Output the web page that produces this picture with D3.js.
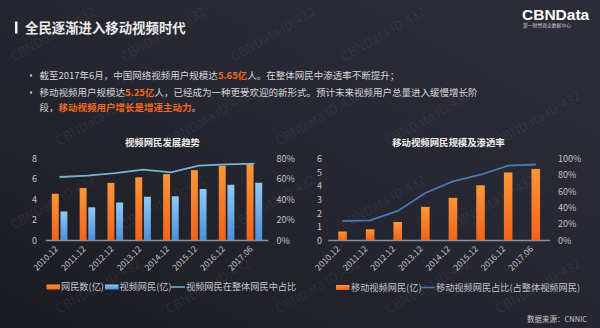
<!DOCTYPE html>
<html>
<head>
<meta charset="utf-8">
<script src="https://cdn.jsdelivr.net/npm/d3@7"></script>
<style>
  html, body { margin: 0; padding: 0; background: #1f2028; }
  svg { display: block; }
  text { font-family: "Noto Sans CJK SC", "Noto Sans", sans-serif; }
</style>
</head>
<body>
<svg id="chart" width="600" height="328"></svg>
<script>
// Periods on the x axis (shared by both panels)
const categories = ["2010.12", "2011.12", "2012.12", "2013.12", "2014.12", "2015.12", "2016.12", "2017.06"];

// Left panel: 网民数 / 视频网民 (亿) and video share of all netizens (%)
const netizens   = [4.57, 5.13, 5.64, 6.18, 6.49, 6.88, 7.31, 7.51];
const videoUsers = [2.84, 3.25, 3.72, 4.28, 4.33, 5.04, 5.45, 5.65];
const videoShare = [62.1, 63.4, 65.9, 69.3, 66.7, 73.2, 74.5, 75.2];

// Right panel: 移动视频网民 (亿) and its share of all video users (%)
const mobileVideo = [0.66, 0.82, 1.36, 2.47, 3.13, 4.05, 4.99, 5.25];
const mobileShare = [23.7, 24.6, 36.2, 58.1, 72.2, 80.4, 91.6, 92.9];

// Axis tick values
const leftTicks = [0, 2, 4, 6, 8];
const leftPctTicks = [0, 20, 40, 60, 80];
const rightTicks = [0, 1, 2, 3, 4, 5, 6];
const rightPctTicks = [0, 20, 40, 60, 80, 100];

const svg = d3.select("#chart");
const defs = svg.append("defs");

// Background
const bg = defs.append("linearGradient").attr("id", "bg")
  .attr("x1", "0").attr("y1", "1").attr("x2", "1").attr("y2", "0");
bg.append("stop").attr("offset", "0%").attr("stop-color", "#1b1c22");
bg.append("stop").attr("offset", "55%").attr("stop-color", "#262731");
bg.append("stop").attr("offset", "100%").attr("stop-color", "#2c2d38");
svg.append("rect").attr("width", 600).attr("height", 328).attr("fill", "url(#bg)");

// Bar gradients
function vGrad(id, top, bottom) {
  const g = defs.append("linearGradient").attr("id", id)
    .attr("x1", "0").attr("y1", "0").attr("x2", "0").attr("y2", "1");
  g.append("stop").attr("offset", "0%").attr("stop-color", top);
  g.append("stop").attr("offset", "100%").attr("stop-color", bottom);
}
vGrad("gOrange", "#ff9636", "#f2621a");
vGrad("gBlue", "#8fcaf4", "#4c8fd8");

// Faint diagonal watermark, kept inside the canvas and clear of the logo
const wm = svg.append("g").attr("fill", "#ffffff").attr("fill-opacity", 0.07)
  .style("font-family", "'Liberation Sans', Arial, sans-serif").attr("font-size", 13);
for (let r = 0; r < 5; r++) {
  for (let c = 0; c < 7; c++) {
    const x = 14 + c * 110 + (r % 2) * 45;
    const y = 62 + r * 84;
    const inside = x >= 10 && x + 92 <= 596 && y - 54 >= 2 && y + 2 <= 326;
    const nearLogo = x + 92 > 500 && y - 54 < 32;
    if (inside && !nearLogo) {
      wm.append("text").attr("transform", `translate(${x},${y}) rotate(-30)`).text("CBNData ID:432");
    }
  }
}

// Header
svg.append("rect").attr("x", 15).attr("y", 21.5).attr("width", 2.5).attr("height", 12).attr("fill", "#f0f0f0");
svg.append("text").attr("x", 25).attr("y", 32.5).attr("fill", "#ececec")
  .attr("font-size", 13.4).attr("font-weight", "bold").text("全民逐渐进入移动视频时代");

svg.append("text").attr("x", 522).attr("y", 19.5).attr("fill", "#ffffff")
  .style("font-family", "'Liberation Sans', Arial, sans-serif")
  .attr("font-size", 15.5).attr("font-weight", "bold").text("CBNData");
svg.append("text").attr("x", 523).attr("y", 27).attr("fill", "#cfcfd4")
  .attr("font-size", 4.8).text("第一财经商业数据中心");

// Bullet paragraph
const orange = "#f26a1e";
const bodyColor = "#d6d6da";
const bulletLines = [
  { y: 79, bullet: true, parts: [
    { t: "截至2017年6月，中国网络视频用户规模达" },
    { t: "5.65亿", hl: true },
    { t: "人。在整体网民中渗透率不断提升；" }] },
  { y: 96, bullet: true, parts: [
    { t: "移动视频用户规模达" },
    { t: "5.25亿", hl: true },
    { t: "人，已经成为一种更受欢迎的新形式。预计未来视频用户总量进入缓慢增长阶" }] },
  { y: 111, bullet: false, parts: [
    { t: "段，" },
    { t: "移动视频用户增长是增速主动力", hl: true },
    { t: "。" }] }
];
bulletLines.forEach(line => {
  if (line.bullet) {
    svg.append("circle").attr("cx", 31).attr("cy", line.y - 3.5).attr("r", 1.2).attr("fill", "#bdbdc4");
  }
  const t = svg.append("text").attr("x", 39.5).attr("y", line.y).attr("font-size", 9.5).attr("fill", bodyColor);
  line.parts.forEach(p => {
    t.append("tspan").text(p.t)
      .attr("fill", p.hl ? orange : bodyColor)
      .attr("font-weight", p.hl ? "bold" : "normal");
  });
});

const axisText = "#c4c4cc";
const baseY = 240.5, topY = 158.7;

// ---------- Left panel ----------
const left = svg.append("g");
left.append("text").attr("x", 162.5).attr("y", 146).attr("text-anchor", "middle")
  .attr("fill", "#ededed").attr("font-size", 9.4).attr("font-weight", "bold").text("视频网民发展趋势");

const x0 = d3.scaleBand().domain(categories).range([45.7, 268.3]).paddingInner(0.44).paddingOuter(0.22);
const x1 = d3.scaleBand().domain(["net", "video"]).range([0, x0.bandwidth()]).paddingInner(0.2);
const yL = d3.scaleLinear().domain([0, 8]).range([baseY, topY]);
const yLp = d3.scaleLinear().domain([0, 80]).range([baseY, topY]);

left.selectAll("text.yl").data(leftTicks).join("text").attr("class", "yl")
  .attr("x", 37).attr("y", d => yL(d) + 3.3).attr("text-anchor", "end")
  .attr("fill", axisText).attr("font-size", 9).text(d => d);
left.selectAll("text.yr").data(leftPctTicks).join("text").attr("class", "yr")
  .attr("x", 276.5).attr("y", d => yLp(d) + 3.3)
  .attr("fill", axisText).attr("font-size", 9).text(d => d + "%");

const groups = left.selectAll("g.grp").data(categories).join("g").attr("class", "grp")
  .attr("transform", c => `translate(${x0(c)},0)`);
groups.append("rect").attr("x", x1("net")).attr("width", x1.bandwidth())
  .attr("y", (c, i) => yL(netizens[i])).attr("height", (c, i) => baseY - yL(netizens[i]))
  .attr("fill", "url(#gOrange)");
groups.append("rect").attr("x", x1("video")).attr("width", x1.bandwidth())
  .attr("y", (c, i) => yL(videoUsers[i])).attr("height", (c, i) => baseY - yL(videoUsers[i]))
  .attr("fill", "url(#gBlue)");

left.append("line").attr("x1", 45.7).attr("x2", 268.3).attr("y1", baseY).attr("y2", baseY)
  .attr("stroke", "#8d909c").attr("stroke-width", 1.5);

left.append("path").datum(videoShare)
  .attr("d", d3.line().x((d, i) => x0(categories[i]) + x0.bandwidth() / 2).y(d => yLp(d)))
  .attr("fill", "none").attr("stroke", "#78b3d3").attr("stroke-width", 1.8);

left.selectAll("text.xl").data(categories).join("text").attr("class", "xl")
  .attr("transform", c => `translate(${x0(c) + x0.bandwidth() / 2 - 1},${baseY + 9}) rotate(-45)`)
  .attr("text-anchor", "end").attr("fill", axisText).attr("font-size", 8.5).text(c => c);

// Left legend
const legY = 287;
left.append("rect").attr("x", 46.5).attr("y", legY - 2.5).attr("width", 13.5).attr("height", 5).attr("fill", "url(#gOrange)");
left.append("text").attr("x", 61).attr("y", legY + 3.3).attr("fill", axisText).attr("font-size", 9.2).text("网民数(亿)");
left.append("rect").attr("x", 105).attr("y", legY - 2.5).attr("width", 13.5).attr("height", 5).attr("fill", "url(#gBlue)");
left.append("text").attr("x", 119.5).attr("y", legY + 3.3).attr("fill", axisText).attr("font-size", 9.2).text("视频网民(亿)");
left.append("line").attr("x1", 171).attr("x2", 185).attr("y1", legY).attr("y2", legY).attr("stroke", "#78b3d3").attr("stroke-width", 1.5);
left.append("text").attr("x", 186).attr("y", legY + 3.3).attr("fill", axisText).attr("font-size", 9.2).text("视频网民在整体网民中占比");

// ---------- Right panel ----------
const right = svg.append("g");
right.append("text").attr("x", 448.5).attr("y", 146).attr("text-anchor", "middle")
  .attr("fill", "#ededed").attr("font-size", 9.4).attr("font-weight", "bold").text("移动视频网民规模及渗透率");

const xR = d3.scaleBand().domain(categories).range([328.3, 550]).paddingInner(0.69).paddingOuter(0.36);
const yR = d3.scaleLinear().domain([0, 6]).range([baseY, topY]);
const yRp = d3.scaleLinear().domain([0, 100]).range([baseY, topY]);

right.selectAll("text.yl").data(rightTicks).join("text").attr("class", "yl")
  .attr("x", 322).attr("y", d => yR(d) + 3.3).attr("text-anchor", "end")
  .attr("fill", axisText).attr("font-size", 9).text(d => d);
right.selectAll("text.yr").data(rightPctTicks).join("text").attr("class", "yr")
  .attr("x", 558).attr("y", d => yRp(d) + 3.3)
  .attr("fill", axisText).attr("font-size", 9).text(d => d + "%");

right.selectAll("rect.bar").data(mobileVideo).join("rect").attr("class", "bar")
  .attr("x", (d, i) => xR(categories[i])).attr("width", xR.bandwidth())
  .attr("y", d => yR(d)).attr("height", d => baseY - yR(d))
  .attr("fill", "url(#gOrange)");

right.append("line").attr("x1", 328.3).attr("x2", 550).attr("y1", baseY).attr("y2", baseY)
  .attr("stroke", "#8d909c").attr("stroke-width", 1.5);

right.append("path").datum(mobileShare)
  .attr("d", d3.line().x((d, i) => xR(categories[i]) + xR.bandwidth() / 2).y(d => yRp(d)))
  .attr("fill", "none").attr("stroke", "#4a78ba").attr("stroke-width", 1.8);

right.selectAll("text.xl").data(categories).join("text").attr("class", "xl")
  .attr("transform", c => `translate(${xR(c) + xR.bandwidth() / 2 - 2},${baseY + 9}) rotate(-45)`)
  .attr("text-anchor", "end").attr("fill", axisText).attr("font-size", 8.5).text(c => c);

// Right legend
right.append("rect").attr("x", 336).attr("y", legY - 2).attr("width", 13.5).attr("height", 5).attr("fill", "url(#gOrange)");
right.append("text").attr("x", 351).attr("y", legY + 4).attr("fill", axisText).attr("font-size", 9.2).text("移动视频网民(亿)");
right.append("line").attr("x1", 421.5).attr("x2", 435).attr("y1", legY + 0.5).attr("y2", legY + 0.5).attr("stroke", "#4a78ba").attr("stroke-width", 1.5);
right.append("text").attr("x", 436).attr("y", legY + 4).attr("fill", axisText).attr("font-size", 9.2).text("移动视频网民占比(占整体视频网民)");

// Source note
svg.append("text").attr("x", 527).attr("y", 322).attr("fill", "#c8c8ce").attr("font-size", 7.5).text("数据来源：CNNIC");
</script>
</body>
</html>
